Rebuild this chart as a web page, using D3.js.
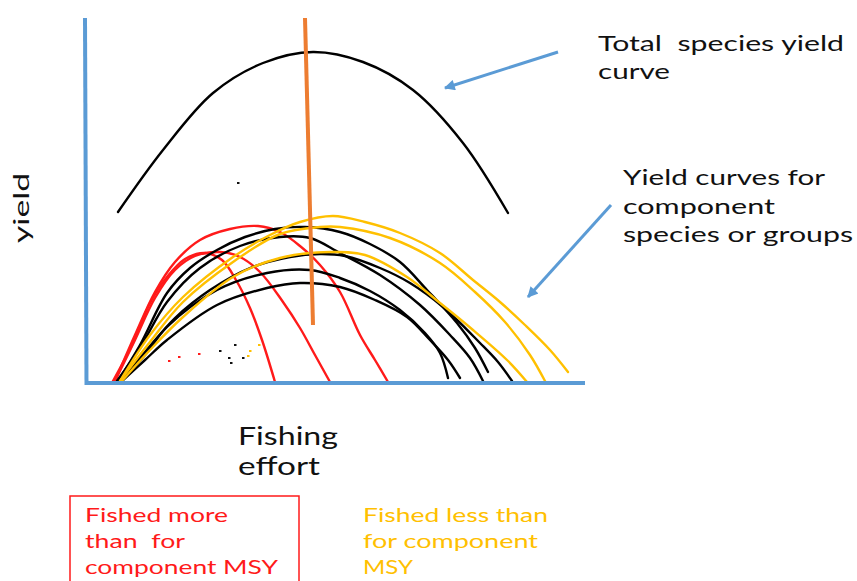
<!DOCTYPE html>
<html>
<head>
<meta charset="utf-8">
<script src="https://cdn.jsdelivr.net/npm/d3@7"></script>
<style>
  html, body { margin: 0; padding: 0; background: #fff; }
  svg { display: block; font-family: Lato, "Open Sans", sans-serif; }
</style>
</head>
<body>
<svg id="chart" width="857" height="581"></svg>
<script>
// ---- values: [fishing effort, yield] ----
const totalYield = [[6.6,34.2],[15.6,46.6],[25.6,58],[35.6,64],[45.6,66.2],[55.6,64.2],[65.6,58.6],[75.6,48],[84.6,34]];

// effort giving the maximum total yield
const msyEffort = [[44,73],[45.6,11.6]];

// components fished beyond their own MSY
const redCurves = [
  [[5.6,0.4],[9.6,8],[13,16],[16.4,21.2],[20,24.8],[24,26],[27.4,24.6],[30.2,20.6],[33,15],[35.4,8.6],[38,0.2]],
  [[6,0.4],[10,8.6],[14,17],[18,22.6],[22,25.4],[27,26.2],[31,25.2],[35,22.2],[39.6,16.2],[43,11],[46,5.6],[49,0.2]],
  [[6,0.4],[10,9.6],[14,18.2],[18,24.2],[23,28.6],[29,30.8],[34.6,31.4],[39,30.2],[43,27.4],[47,23.6],[51,18.2],[55,9.6],[58,4.6],[60.6,0.2]]
];

// components near their MSY
const blackCurves = [
  [[6.6,0.4],[11,7.6],[16.4,18],[21,23],[26.4,26.6],[32,29.2],[38,30.8],[44,31.2],[51,30.2],[57,27.8],[63,24.2],[68.4,18.6],[74.4,12],[78,7],[80.6,2.2]],
  [[6.4,0.4],[11,7],[16.4,16.2],[23,23],[31,27.4],[39,29.2],[45,29],[51,26],[59,21.6],[67,15.6],[73,9.6],[77,5],[79.6,0.4]],
  [[7,0.4],[12,6.2],[18,13],[25,18.6],[33,23],[41,25.2],[47,25.8],[52,25.4],[59,23],[65,20],[71.6,15.2],[79,8],[82.6,4.2],[85.4,0.4]],
  [[7,0.4],[12,5.6],[16.4,11.2],[26.4,18.6],[36.4,22],[45,22.6],[51,21],[57,18.4],[63,14.6],[68,10],[71,6],[72.6,1]],
  [[7.4,0.4],[12,4.6],[16.4,8.6],[26.4,15.6],[36.4,19],[43,20],[51,19.2],[58,16.6],[64.4,13.2],[69,8.6],[72.6,4.6],[75,1]]
];

// components fished below their own MSY
const yellowCurves = [
  [[7,0.4],[13,9.6],[19.6,17.2],[29.6,25.2],[37,29.6],[43,32.2],[49.6,33.4],[56,32.2],[63,30],[71,26],[77.6,20.6],[83,16.2],[88,11.6],[93,6.6],[96.6,2.2]],
  [[7,0.4],[13,8.2],[19.6,16.2],[29.6,24.2],[39,29.8],[47,31.2],[51,31.2],[61,29],[71,24],[78,18.2],[84,12.2],[89,5.6],[92,0.4]],
  [[7.4,0.4],[13,6.6],[19.6,13.2],[29.6,21.2],[39,25],[49,26.2],[56,25.6],[64.4,21.2],[71,16],[77.6,10.6],[84.4,4.6],[88.4,0.2]]
];

// stray pen marks
const redSpecks = [[16.8,4.4],[18.8,5.2],[22.8,5.8]];
const blackSpecks = [[27,6.4],[30,7.6],[28.8,5],[29.2,4],[31.6,5],[30.6,40]];
const yellowSpecks = [[33,6.4],[32.6,5.4],[34.8,7.6]];

// annotation arrows: [from, to]
const arrows = [
  [[94.6,66.2],[72,59]],
  [[105.2,35.6],[88.6,17.2]]
];

// text
const totalLabel = ["Total  species yield", "curve"];
const componentLabel = ["Yield curves for", "component", "species or groups"];
const xLabel = ["Fishing", "effort"];
const yLabel = "yield";
const moreLabel = ["Fished more", "than  for", "component MSY"];
const lessLabel = ["Fished less than", "for component", "MSY"];

// ---- drawing ----
const svg = d3.select("#chart");
const x = d3.scaleLinear().domain([0, 100]).range([85, 585]);
const y = d3.scaleLinear().domain([0, 73]).range([383, 18]);

const blue = "#5b9bd5", red = "#ff1a1a", gold = "#ffc000", orange = "#ed7d31";

const line = d3.line()
  .x(d => x(d[0])).y(d => y(d[1]))
  .curve(d3.curveCatmullRom.alpha(0.5));

svg.append("defs").append("marker")
  .attr("id", "head").attr("viewBox", "0 0 10 10")
  .attr("refX", 9).attr("refY", 5)
  .attr("markerWidth", 4.2).attr("markerHeight", 3.6)
  .attr("orient", "auto")
  .append("path").attr("d", "M0,0 L10,5 L0,10 Z").attr("fill", blue);

// component curves
function drawGroup(curves, color) {
  svg.append("g").selectAll("path").data(curves).join("path")
    .attr("d", line)
    .attr("fill", "none").attr("stroke", color)
    .attr("stroke-width", 2.4).attr("stroke-linecap", "round");
}
drawGroup(redCurves, red);
drawGroup(blackCurves, "#000");
drawGroup(yellowCurves, gold);

// total yield curve
svg.append("path").datum(totalYield)
  .attr("d", line).attr("fill", "none")
  .attr("stroke", "#000").attr("stroke-width", 2.4).attr("stroke-linecap", "round");

// specks
function drawSpecks(pts, color) {
  svg.append("g").selectAll("rect").data(pts).join("rect")
    .attr("x", d => x(d[0]) - 1).attr("y", d => y(d[1]) - 1)
    .attr("width", 2.5).attr("height", 2).attr("fill", color);
}
drawSpecks(redSpecks, red);
drawSpecks(blackSpecks, "#111");
drawSpecks(yellowSpecks, gold);

// MSY effort line
svg.append("line")
  .attr("x1", x(msyEffort[0][0])).attr("y1", y(msyEffort[0][1]))
  .attr("x2", x(msyEffort[1][0])).attr("y2", y(msyEffort[1][1]))
  .attr("stroke", orange).attr("stroke-width", 4);

// axes
svg.append("line")
  .attr("x1", x(0)).attr("y1", y(73)).attr("x2", x(0) + 1.5).attr("y2", y(0) + 2)
  .attr("stroke", blue).attr("stroke-width", 4);
svg.append("line")
  .attr("x1", x(0)).attr("y1", y(0)).attr("x2", x(100)).attr("y2", y(0))
  .attr("stroke", blue).attr("stroke-width", 4);

// arrows
svg.append("g").selectAll("line").data(arrows).join("line")
  .attr("x1", d => x(d[0][0])).attr("y1", d => y(d[0][1]))
  .attr("x2", d => x(d[1][0])).attr("y2", d => y(d[1][1]))
  .attr("stroke", blue).attr("stroke-width", 3)
  .attr("marker-end", "url(#head)");

// multi-line text block: one <text>, one <tspan> per line
function block(lines, x0, y0, step, size, widths, color) {
  svg.append("text")
    .attr("font-size", size).attr("fill", color)
    .style("white-space", "pre")
    .selectAll("tspan").data(lines).join("tspan")
    .attr("x", x0).attr("y", (d, i) => y0 + i * step)
    .attr("textLength", (d, i) => widths[i])
    .attr("lengthAdjust", "spacingAndGlyphs")
    .text(d => d);
}
block(totalLabel, 598, 51, 28, 21.5, [246, 72], "#111");
block(componentLabel, 623, 185, 28.5, 21, [202, 152, 230], "#111");
block(xLabel, 238, 445, 30, 24.5, [100, 82], "#111");
block(moreLabel, 85, 522, 26, 18.5, [143, 100, 193], red);
block(lessLabel, 363, 522, 26, 18.5, [185, 175, 50], gold);

svg.append("text")
  .attr("transform", "translate(29,243) rotate(-90)")
  .attr("font-size", 22).attr("fill", "#111")
  .attr("textLength", 70).attr("lengthAdjust", "spacingAndGlyphs")
  .text(yLabel);

// box around the over-fished note
svg.append("rect")
  .attr("x", 70).attr("y", 496).attr("width", 229).attr("height", 110)
  .attr("fill", "none").attr("stroke", red).attr("stroke-width", 1.5);
</script>
</body>
</html>
